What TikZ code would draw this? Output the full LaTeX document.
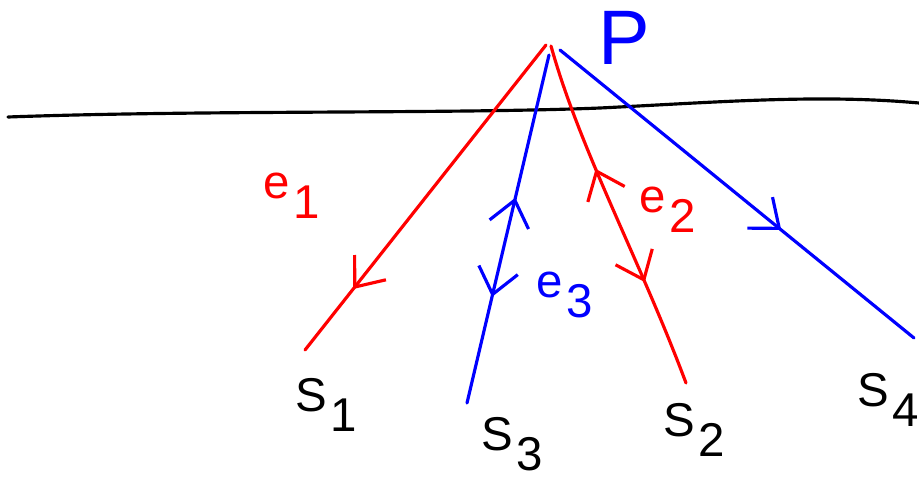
\documentclass[tikz,border=0pt]{standalone}
\usepackage{fontspec}
\setmainfont{Liberation Sans}
\usetikzlibrary{positioning,arrows.meta,decorations.markings}
\definecolor{rayRed}{HTML}{FF0000}
\definecolor{rayBlue}{HTML}{0000FF}
\newcommand{\lowsub}[1]{\kern2pt\raisebox{-0.8ex}{#1}}

\begin{document}
\begin{tikzpicture}[x=0.02cm, y=-0.02cm,
      ray/.style={draw=#1, line width=1.8pt, line cap=round},
      fwd/.style={postaction={decorate, decoration={markings,
          mark=at position #1 with {\arrow{Straight Barb[length=5mm,width=8mm,line width=1.8pt]}}}}},
      bwd/.style={postaction={decorate, decoration={markings,
          mark=at position #1 with {\arrowreversed{Straight Barb[length=5mm,width=8mm,line width=1.8pt]}}}}},
      lbl/.style={text=#1, inner sep=0pt, font=\fontsize{27}{30}\selectfont}]
    \useasboundingbox (0,0) rectangle (919,480);
    % surface
    \draw[line width=1.8pt, line cap=round] (8,117) .. controls (200,110) and (450,114) .. (600,108)
        .. controls (720,102) and (820,94) .. (919,103);
    % source point and receivers
    \coordinate (Pr) at (546,45);
    \coordinate (Pr2) at (551,46);
    \coordinate (Pb) at (549,55);
    \coordinate (Pb2) at (560,50);
    \coordinate (S1) at (305,350);
    \coordinate (S2) at (686,383);
    \coordinate (S3) at (467,403);
    \coordinate (S4) at (914,338);
    % rays
    \draw[ray=rayRed, fwd=0.80] (Pr) -- (S1);
    \draw[ray=rayRed, bwd=0.36, fwd=0.70] (Pr2) .. controls (580,150) and (640,260) .. (S2);
    \draw[ray=rayBlue, bwd=0.41, fwd=0.695] (Pb) -- (S3);
    \draw[ray=rayBlue, fwd=0.625] (Pb2) -- (S4);
    % labels
    \node[lbl=rayBlue, font=\fontsize{44}{48}\selectfont] (P) at (624,38) {P};
    \node[lbl=rayRed] (e1) at (292,196) {e\lowsub{1}};
    \node[lbl=rayRed] (e2) at (668,210) {e\lowsub{2}};
    \node[lbl=rayBlue] (e3) at (565,295) {e\lowsub{3}};
    \node[lbl=black] (s1) at (326,405) {S\lowsub{1}};
    \node[lbl=black] (s3) at (512,444) {S\lowsub{3}};
    \node[lbl=black] (s2) at (694,430) {S\lowsub{2}};
    \node[lbl=black] (s4) at (888,400) {S\lowsub{4}};
  \end{tikzpicture}
\end{document}
